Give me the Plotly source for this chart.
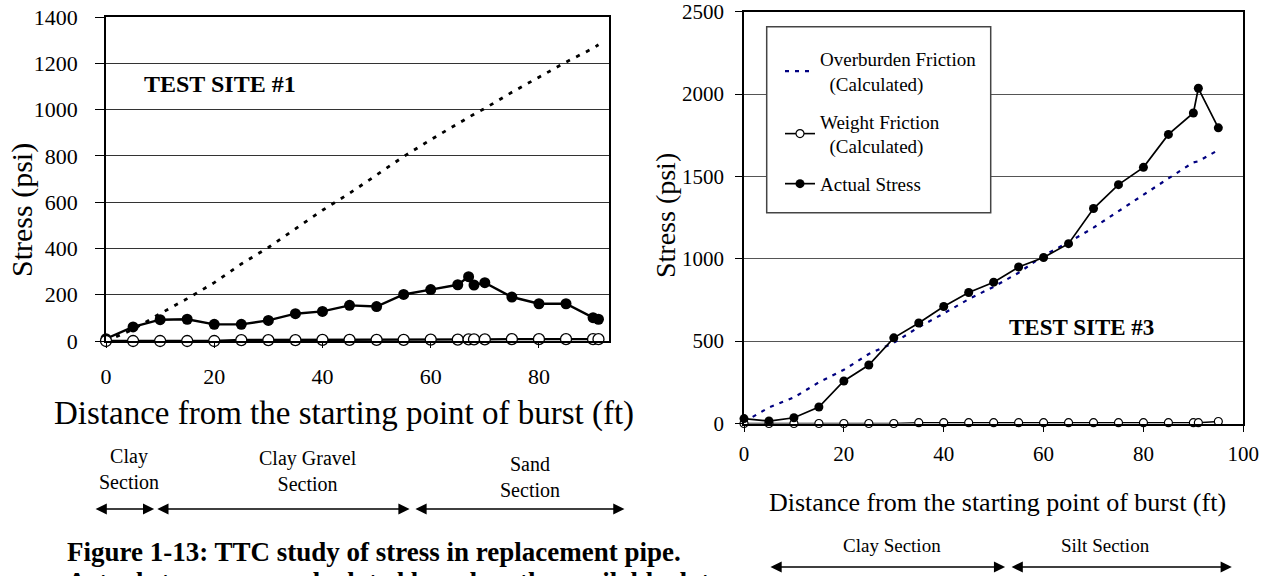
import plotly.graph_objects as go

W, H = 1269, 576
FONT = "Times New Roman, Liberation Serif, serif"

# ---------------- data: Test Site #1 (left) ----------------
site1_distance = [0, 5, 10, 15, 20, 25, 30, 35, 40, 45, 50, 55, 60, 65, 67, 68, 70, 75, 80, 85, 90, 91]
site1_actual = [10, 61, 92, 94, 72, 72, 89, 118, 128, 154, 149, 201, 222, 243, 278, 242, 252, 190, 161, 161, 101, 94]
site1_weight = [0, 0, 0, 0, 0, 4, 4, 4, 5, 5, 5, 5, 6, 6, 7, 7, 7, 8, 8, 8, 8, 8]
site1_overburden = [0, 50, 118, 183, 252, 333, 404, 483, 565, 638, 719, 797, 870, 940, 965, 980, 1005, 1075, 1140, 1205, 1265, 1280]
site1_xticks = [0, 20, 40, 60, 80]
site1_sections = ["Clay<br>Section", "Clay Gravel<br>Section", "Sand<br>Section"]
site1_section_start = [-2.2, 9.2, 56.9]
site1_section_end = [8.9, 56.1, 95.8]
site1_section_label_x = [4.2, 37.3, 78.3]

# ---------------- data: Test Site #3 (right) ----------------
site3_distance = [0, 5, 10, 15, 20, 25, 30, 35, 40, 45, 50, 55, 60, 65, 70, 75, 80, 85, 90, 91, 95]
site3_actual = [30, 15, 35, 100, 258, 355, 520, 610, 710, 795, 858, 950, 1008, 1092, 1305, 1450, 1555, 1755, 1885, 2035, 1795]
site3_weight = [0, 0, 0, 0, 0, 0, 0, 5, 5, 5, 5, 5, 5, 5, 5, 5, 5, 5, 5, 5, 12]
site3_overburden = [10, 97, 158, 250, 326, 422, 490, 585, 668, 755, 830, 915, 1020, 1100, 1189, 1290, 1390, 1488, 1585, 1592, 1660]
site3_xticks = [0, 20, 40, 60, 80, 100]
site3_sections = ["Clay Section", "Silt Section"]
site3_section_start = [5.0, 53.3]
site3_section_end = [52.3, 97.7]
site3_section_label_x = [29.6, 72.5]

legend_names = ["Overburden Friction<br>\u00a0\u00a0(Calculated)",
                "Weight Friction<br>\u00a0\u00a0(Calculated)",
                "Actual Stress"]


def px_x(p):
    return p / W


def px_y(p):
    return 1 - p / H


fig = go.Figure()

# ---- left panel traces ----
fig.add_trace(go.Scatter(x=site1_distance, y=site1_overburden, mode="lines",
                         line=dict(color="black", width=2.8, dash="4px,7px"),
                         xaxis="x", yaxis="y", showlegend=False, cliponaxis=False))
fig.add_trace(go.Scatter(x=site1_distance, y=site1_actual, mode="lines+markers",
                         line=dict(color="black", width=2.4),
                         marker=dict(symbol="circle", size=11, color="black"),
                         xaxis="x", yaxis="y", showlegend=False, cliponaxis=False))
fig.add_trace(go.Scatter(x=site1_distance, y=site1_weight, mode="lines+markers",
                         line=dict(color="black", width=2.4),
                         marker=dict(symbol="circle", size=11, color="white",
                                     line=dict(color="black", width=1.3)),
                         xaxis="x", yaxis="y", showlegend=False, cliponaxis=False))

# ---- right panel traces ----
fig.add_trace(go.Scatter(x=site3_distance, y=site3_overburden, mode="lines",
                         name=legend_names[0],
                         line=dict(color="#000080", width=2.2, dash="4px,6px"),
                         xaxis="x2", yaxis="y2", legendgroup="a", cliponaxis=False))
fig.add_trace(go.Scatter(x=site3_distance, y=site3_weight, mode="lines+markers",
                         name=legend_names[1],
                         line=dict(color="black", width=1.6),
                         marker=dict(symbol="circle", size=8, color="white",
                                     line=dict(color="black", width=1.2)),
                         xaxis="x2", yaxis="y2", legendgroup="b", cliponaxis=False))
fig.add_trace(go.Scatter(x=site3_distance, y=site3_actual, mode="lines+markers",
                         name=legend_names[2],
                         line=dict(color="black", width=1.7),
                         marker=dict(symbol="circle", size=9, color="black"),
                         xaxis="x2", yaxis="y2", legendgroup="c", cliponaxis=False))

axis_common = dict(showline=True, linecolor="black", linewidth=1.5, mirror=True,
                   ticks="outside", tickcolor="black", tickwidth=1, zeroline=False)
font_left = dict(family=FONT, size=22, color="black")
font_right = dict(family=FONT, size=21, color="black")

fig.update_layout(
    width=W, height=H, autosize=False,
    margin=dict(l=0, r=0, t=0, b=0, pad=0),
    paper_bgcolor="white", plot_bgcolor="white",
    template="none",
    font=dict(family=FONT, color="black"),
    xaxis=dict(domain=[px_x(106), px_x(609.3)], range=[0, 93], anchor="y",
               tickmode="array", tickvals=site1_xticks, ticklen=5, showgrid=False,
               ticklabelstandoff=10, tickfont=font_left, **axis_common),
    yaxis=dict(domain=[px_y(341), px_y(17)], range=[0, 1400], anchor="x", dtick=200,
               ticklen=9, showgrid=True, gridcolor="#333333", gridwidth=1,
               ticklabelstandoff=13, tickfont=font_left, **axis_common),
    xaxis2=dict(domain=[px_x(744), px_x(1243.3)], range=[0, 100], anchor="y2",
                tickmode="array", tickvals=site3_xticks, ticklen=7, showgrid=False,
                ticklabelstandoff=4, tickfont=font_right, **axis_common),
    yaxis2=dict(domain=[px_y(423.5), px_y(11.7)], range=[0, 2500], anchor="x2", dtick=500,
                ticklen=7, showgrid=True, gridcolor="#555555", gridwidth=1,
                ticklabelstandoff=7, tickfont=font_right, **axis_common),
    legend=dict(x=px_x(780), y=px_y(40), xanchor="left", yanchor="top",
                bgcolor="rgba(0,0,0,0)", borderwidth=0,
                font=dict(family=FONT, size=19, color="black"),
                traceorder="grouped", tracegroupgap=10),
    showlegend=True,
)

# legend frame
fig.add_shape(type="rect", xref="paper", yref="paper",
              x0=px_x(766.7), x1=px_x(990.7), y0=px_y(212.7), y1=px_y(26.7),
              line=dict(color="#444444", width=1.5), fillcolor="white", layer="above")

ann = []
# axis titles
ann.append(dict(text="Stress (psi)", x=px_x(22), y=px_y(210), xref="paper", yref="paper",
                textangle=-90, showarrow=False, font=dict(size=30)))
ann.append(dict(text="Distance from the starting point of burst (ft)", x=px_x(344), y=px_y(413),
                xref="paper", yref="paper", showarrow=False, font=dict(size=33)))
ann.append(dict(text="<b>TEST SITE #1</b>", x=px_x(219.5), y=px_y(84), xref="paper", yref="paper",
                showarrow=False, font=dict(size=24)))
ann.append(dict(text="Stress (psi)", x=px_x(665), y=px_y(216), xref="paper", yref="paper",
                textangle=-90, showarrow=False, font=dict(size=28)))
ann.append(dict(text="Distance from the starting point of burst (ft)", x=px_x(997), y=px_y(502),
                xref="paper", yref="paper", showarrow=False, font=dict(size=26)))
ann.append(dict(text="<b>TEST SITE #3</b>", x=px_x(1081), y=px_y(327), xref="paper", yref="paper",
                showarrow=False, font=dict(size=23)))
# caption
ann.append(dict(text="<b>Figure 1-13: TTC study of stress in replacement pipe.</b>",
                x=px_x(65), y=px_y(552), xref="paper", yref="paper", xanchor="left",
                showarrow=False, font=dict(size=27)))
ann.append(dict(text="<b>Actual stresses are calculated based on the available data</b>",
                x=px_x(65), y=px_y(582), xref="paper", yref="paper", xanchor="left",
                showarrow=False, font=dict(size=27)))

# section labels and arrows (left)
label_y1 = [468.5, 470.5, 476.5]
for name, x0, x1, lx, ly in zip(site1_sections, site1_section_start, site1_section_end,
                                site1_section_label_x, label_y1):
    ann.append(dict(text=name, x=lx, y=px_y(ly), xref="x", yref="paper", showarrow=False,
                    font=dict(size=20)))
    ann.append(dict(text="", x=x1, y=px_y(509), xref="x", yref="paper",
                    ax=x0, ay=0, axref="x", ayref="pixel", showarrow=True,
                    arrowhead=2, startarrowhead=2, arrowside="end+start",
                    arrowsize=1.4, startarrowsize=1.4, arrowwidth=1.6, arrowcolor="black",
                    standoff=0, startstandoff=0))
# section labels and arrows (right)
for name, x0, x1, lx in zip(site3_sections, site3_section_start, site3_section_end,
                            site3_section_label_x):
    ann.append(dict(text=name, x=lx, y=px_y(545), xref="x2", yref="paper", showarrow=False,
                    font=dict(size=19)))
    ann.append(dict(text="", x=x1, y=px_y(567), xref="x2", yref="paper",
                    ax=x0, ay=0, axref="x2", ayref="pixel", showarrow=True,
                    arrowhead=2, startarrowhead=2, arrowside="end+start",
                    arrowsize=1.4, startarrowsize=1.4, arrowwidth=1.6, arrowcolor="black",
                    standoff=0, startstandoff=0))

for a in ann:
    f = a.get("font", {})
    f.setdefault("family", FONT)
    f.setdefault("color", "black")
    a["font"] = f
    a.setdefault("xanchor", "center")
    a.setdefault("yanchor", "middle")
fig.update_layout(annotations=ann)

fig.write_html("out.html")
